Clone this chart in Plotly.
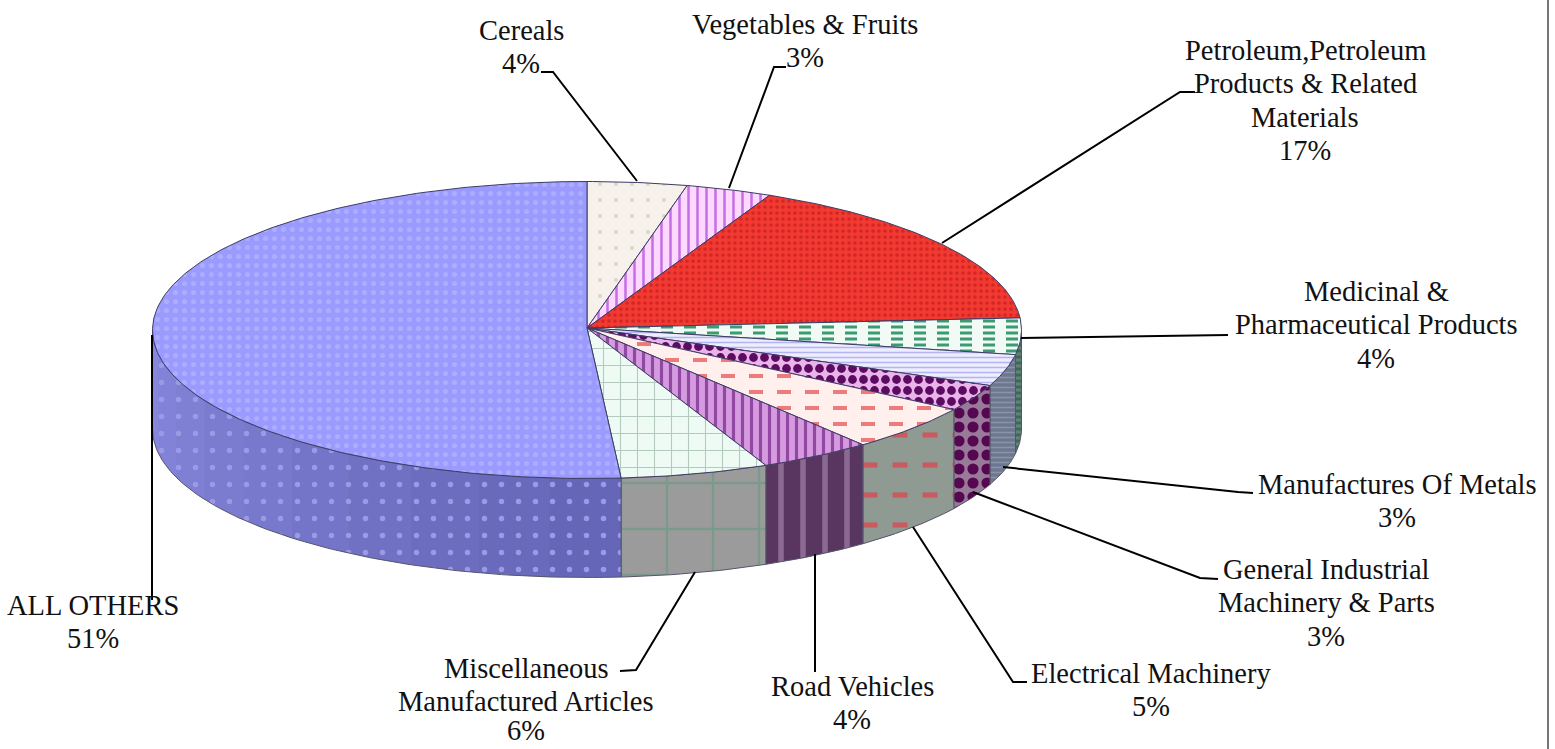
import math
import plotly.graph_objects as go

# ---- data ----
categories = ["Cereals", "Vegetables & Fruits", "Petroleum,Petroleum Products & Related Materials",
              "Medicinal & Pharmaceutical Products", "Manufactures Of Metals",
              "General Industrial Machinery & Parts", "Electrical Machinery", "Road Vehicles",
              "Miscellaneous Manufactured Articles", "ALL OTHERS"]
values = [3.7, 3.2, 16.8, 3.95, 3.45, 2.9, 5.05, 4.2, 5.5, 51.25]
label_lines = [["Cereals"], ["Vegetables & Fruits"],
               ["Petroleum,Petroleum", "Products & Related", "Materials"],
               ["Medicinal &", "Pharmaceutical Products"], ["Manufactures Of Metals"],
               ["General Industrial", "Machinery & Parts"], ["Electrical Machinery"], ["Road Vehicles"],
               ["Miscellaneous", "Manufactured Articles"], ["ALL OTHERS"]]

# ---- styles and layout (pixels of the page) ----
CX, CY, RX, RY, DEPTH = 587, 330, 434.5, 148.5, 99
APEX = (587, 328)
FONT = "Liberation Serif"
FS = 28.5
LINE = 33.5
LOWEST_TEXT_Y = 730
# center x and y of the first line of each label
label_pos = [(521, 30), (805, 24), (1305, 50), (1376, 291), (1397, 484),
             (1326, 569), (1151, 673), (852, 686), (526, 668), (93, 605)]
leaders = [[(541, 72), (553, 72), (637, 181)], [(786, 67), (774, 67), (729, 188)],
           [(1195, 92), (1180, 92), (942, 243)], [(1228, 335), (1021, 338)],
           [(1253, 493), (1238, 492), (1003, 467)], [(1218, 579), (1200, 578), (973, 492)],
           [(1027, 682), (1013, 682), (913, 527)], [(815, 672), (815, 554)],
           [(620, 671), (636, 670), (695, 572)], [(152, 600), (152, 335)]]
# layers of fill patterns: (shape, bg, fg, size, solidity)
top_styles = [
    [(".", "#f6f1ea", "#dcd6c8", 16, 0.05)],
    [("|", "#ffd8ff", "#c470e4", 9, 0.28)],
    [(".", "#f43a30", "#d02828", 6, 0.3)],
    [("-", "#f2faf6", "#3a9a70", 6, 0.5), ("|", "rgba(0,0,0,0)", "#f2faf6", 23, 0.48)],
    [("-", "#eeeeff", "#b4b4f4", 5, 0.3)],
    [(".", "#eab4ea", "#5c0c60", 11, 0.5)],
    [("-", "#fff0ee", "#ec7c7c", 16, 0.25), ("|", "rgba(0,0,0,0)", "#fff0ee", 28, 0.5)],
    [("|", "#d59ae0", "#9048a0", 9, 0.35)],
    [("+", "#eefaf4", "#b4cabc", 17, 0.12)],
    [(".", "#9a9aff", "#adadff", 9, 0.25)],
]
side_styles = [
    None, None, None,
    [("-", "#66807a", "#3c6a58", 6, 0.5)],
    [("-", "#6d7890", "#8a94a8", 5, 0.3)],
    [(".", "#9a7a9a", "#55084f", 14, 0.5)],
    [("-", "#8f9a92", "#c85a60", 30, 0.17), ("|", "rgba(0,0,0,0)", "#8f9a92", 30, 0.5)],
    [("|", "#593660", "#8a6a90", 22, 0.25)],
    [("+", "#9b9b9b", "#7c9a8c", 46, 0.1)],
    [(".", "#7676c6", "#9a9ae6", 17, 0.08)],
]
GRAD_FROM, GRAD_TO = (0x66, 0x66, 0xb8), (0x86, 0x86, 0xdc)
GRAD_BANDS = 10


def pt(frac, dy=0.0):
    a = 2 * math.pi * frac
    return CX + RX * math.sin(a), CY - RY * math.cos(a) + dy


def arc(f0, f1, dy=0.0, step=0.002):
    n = max(2, int(abs(f1 - f0) / step) + 1)
    return [pt(f0 + (f1 - f0) * i / (n - 1), dy) for i in range(n)]


def add_poly(fig, pts, layers, width=1.0, color="#3c3c66"):
    xs, ys = zip(*pts)
    for i, (shape, bg, fg, size, sol) in enumerate(layers):
        last = i == len(layers) - 1
        fig.add_trace(go.Scatter(
            x=list(xs) + [xs[0]], y=list(ys) + [ys[0]], mode="lines", fill="toself",
            fillcolor=bg,
            fillpattern=dict(shape=shape, bgcolor=bg, fgcolor=fg, fgopacity=1, size=size, solidity=sol),
            line=dict(color=color if last else "rgba(0,0,0,0)", width=width),
            hoverinfo="skip", showlegend=False))


fig = go.Figure()
total = sum(values)
edges = [0.0]
for v in values:
    edges.append(edges[-1] + v / total)

# side wall, only the part of the rim that faces the viewer (fractions 0.25 to 0.75)
last_i = len(values) - 1
for i in range(len(values)):
    a, b = max(edges[i], 0.25), min(edges[i + 1], 0.75)
    if side_styles[i] is None or b <= a:
        continue
    if i == last_i:
        # this wall darkens towards the front: lay it as bands of one pattern
        shape, _, fg, size, sol = side_styles[i][0]
        for k in range(GRAD_BANDS):
            f0 = a + (b - a) * k / GRAD_BANDS
            f1 = a + (b - a) * (k + 1) / GRAD_BANDS
            t = k / (GRAD_BANDS - 1)
            rgb = [round(p + (q - p) * t) for p, q in zip(GRAD_FROM, GRAD_TO)]
            bg = "#%02x%02x%02x" % tuple(rgb)
            add_poly(fig, arc(f0, min(f1 + 0.003, b)) + arc(min(f1 + 0.003, b), f0, DEPTH),
                     [(shape, bg, fg, size, sol)], 0.5, "rgba(0,0,0,0)")
        outline = arc(a, b) + arc(b, a, DEPTH)
        ox, oy = zip(*outline)
        fig.add_trace(go.Scatter(x=list(ox) + [ox[0]], y=list(oy) + [oy[0]], mode="lines",
                                 line=dict(color="#55556a", width=1), hoverinfo="skip", showlegend=False))
    else:
        add_poly(fig, arc(a, b) + arc(b, a, DEPTH), side_styles[i], 1.0, "#55556a")

# top face
for i in range(len(values)):
    add_poly(fig, [APEX] + arc(edges[i], edges[i + 1]), top_styles[i], 1.0, "#3c3c66")

# leader lines
for seg in leaders:
    xs, ys = zip(*seg)
    fig.add_trace(go.Scatter(x=list(xs), y=list(ys), mode="lines",
                             line=dict(color="black", width=2), hoverinfo="skip", showlegend=False))

annotations = []
for i, (lines, (x, y)) in enumerate(zip(label_lines, label_pos)):
    all_lines = lines + [f"{round(values[i] / total * 100)}%"]
    for j, t in enumerate(all_lines):
        annotations.append(dict(x=x, y=min(y + j * LINE, LOWEST_TEXT_Y), text=t, showarrow=False,
                                xanchor="center", yanchor="middle",
                                font=dict(family=FONT, size=FS, color="#111111")))

fig.update_layout(
    width=1555, height=749, margin=dict(l=0, r=0, t=0, b=0),
    paper_bgcolor="white", plot_bgcolor="white", showlegend=False,
    xaxis=dict(range=[0, 1555], visible=False, fixedrange=True),
    yaxis=dict(range=[749, 0], visible=False, fixedrange=True),
    annotations=annotations,
    shapes=[dict(type="line", x0=1548, x1=1548, y0=0, y1=749,
                 line=dict(color="#777777", width=2))],
)
fig.write_html("out.html", config={"displayModeBar": False},
               post_script="document.body.style.margin='0';document.body.style.overflow='hidden';")
